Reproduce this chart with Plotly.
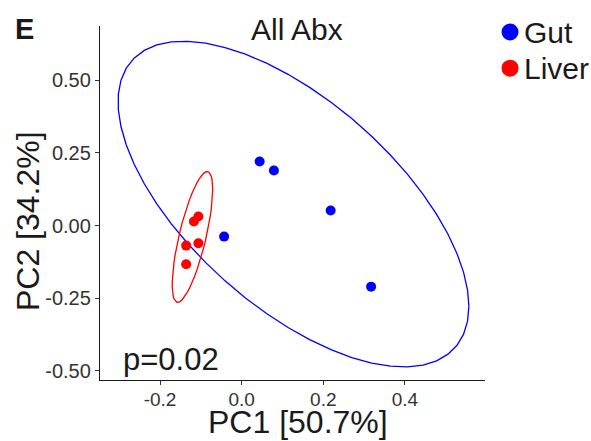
import numpy as np
import plotly.graph_objects as go

# ---- data ----
gut_pc1 = [0.044, 0.079, 0.218, 0.317, -0.043]
gut_pc2 = [0.220, 0.189, 0.052, -0.210, -0.038]
liver_pc1 = [-0.106, -0.117, -0.106, -0.136, -0.136]
liver_pc2 = [0.031, 0.014, -0.061, -0.069, -0.133]

groups = ["Gut", "Liver"]
group_colors = ["#0000FF", "#FF0000"]
x_ticks = [-0.2, 0.0, 0.2, 0.4]
x_tick_labels = ["-0.2", "0.0", "0.2", "0.4"]
y_ticks = [0.5, 0.25, 0.0, -0.25, -0.5]
y_tick_labels = ["0.50", "0.25", "0.00", "-0.25", "-0.50"]
x_range = [-0.347, 0.596]
y_range = [-0.531, 0.686]
title_text = "All Abx"
x_title = "PC1 [50.7%]"
y_title = "PC2 [34.2%]"
p_label = "p=0.02"
panel_label = "E"

FONT = "Liberation Sans, Arial, sans-serif"
TXT = "#1a1a1a"


def cov_trob(pts, nu=5, maxit=25, tol=0.01):
    """Port of MASS::cov.trob (used by ggplot2 stat_ellipse type='t')."""
    x = np.asarray(pts, float)
    n, p = x.shape
    wt = np.ones(n)
    loc = x.mean(axis=0)
    w = np.sqrt(wt)
    X = x - loc
    for _ in range(maxit):
        w0 = w
        X = x - loc
        A = np.sqrt(w / w.sum())[:, None] * X
        _, d, vt = np.linalg.svd(A, full_matrices=False)
        wX = X @ vt.T @ np.diag(1.0 / d)
        Q = (wX ** 2).sum(axis=1)
        w = wt * (nu + p) / (nu + Q)
        loc = (w[:, None] * x).sum(axis=0) / w.sum()
        if np.all(np.abs(w - w0) < tol):
            break
    sw = np.sqrt(w)[:, None] * X
    cov = sw.T @ sw / wt.sum()
    return loc, cov


def stat_ellipse(px, py, level=0.95, segments=51):
    pts = np.column_stack([px, py])
    center, shape = cov_trob(pts)
    dfd = len(px) - 1
    fq = (dfd / 2.0) * ((1 - level) ** (-2.0 / dfd) - 1)  # qf(level, 2, dfd)
    radius = np.sqrt(2 * fq)
    R = np.linalg.cholesky(shape).T
    ang = np.arange(segments + 1) * 2 * np.pi / segments
    circ = np.column_stack([np.cos(ang), np.sin(ang)])
    e = center + radius * (circ @ R)
    return e[:, 0], e[:, 1]


fig = go.Figure()
series = [(gut_pc1, gut_pc2), (liver_pc1, liver_pc2)]

for (px, py), name, col in zip(series, groups, group_colors):
    ex, ey = stat_ellipse(px, py)
    fig.add_trace(go.Scatter(x=ex, y=ey, mode="lines", line=dict(color=col, width=1.3),
                             showlegend=False, hoverinfo="skip"))
for (px, py), name, col in zip(series, groups, group_colors):
    fig.add_trace(go.Scatter(x=px, y=py, mode="markers", name=name,
                             marker=dict(color=col, size=10, line=dict(width=0)),
                             showlegend=False))

# manual legend (circles + text)
leg_y = [0.983, 0.881]
shapes = []
annotations = []
for name, col, ly in zip(groups, group_colors, leg_y):
    shapes.append(dict(type="circle", xref="paper", yref="paper", xsizemode="pixel",
                       ysizemode="pixel", xanchor=1.065, yanchor=ly,
                       x0=-8.5, x1=8.5, y0=-8.5, y1=8.5,
                       fillcolor=col, line=dict(width=0)))
    annotations.append(dict(text=name, xref="paper", yref="paper", x=1.095, y=ly,
                            xanchor="left", yanchor="middle", showarrow=False,
                            font=dict(size=30, color=TXT, family=FONT)))

annotations.append(dict(text=title_text, xref="paper", yref="paper", x=0.5105, y=0.9915,
                        xanchor="center", yanchor="middle", showarrow=False,
                        font=dict(size=30, color=TXT, family=FONT)))
annotations.append(dict(text="<b>" + panel_label + "</b>", xref="paper", yref="paper",
                        x=-0.197, y=0.9915, xanchor="center", yanchor="middle",
                        showarrow=False, font=dict(size=29, color=TXT, family=FONT)))
annotations.append(dict(text=p_label, xref="x", yref="y", x=-0.295, y=-0.462,
                        xanchor="left", yanchor="middle", showarrow=False,
                        font=dict(size=31, color=TXT, family=FONT)))
# axis titles
annotations.append(dict(text=x_title, xref="paper", yref="paper", x=0.513, y=-0.12,
                        xanchor="center", yanchor="middle", showarrow=False,
                        font=dict(size=32, color=TXT, family=FONT)))
annotations.append(dict(text=y_title, xref="paper", yref="paper", x=-0.187, y=0.449,
                        xanchor="center", yanchor="middle", showarrow=False, textangle=-90,
                        font=dict(size=32, color=TXT, family=FONT)))

fig.update_layout(
    width=591, height=441,
    margin=dict(l=100, r=106, t=26, b=61),
    plot_bgcolor="white", paper_bgcolor="white",
    shapes=shapes, annotations=annotations,
    font=dict(family=FONT),
    xaxis=dict(range=x_range, tickvals=x_ticks, ticktext=x_tick_labels,
               showgrid=False, zeroline=False, showline=True, linecolor=TXT,
               linewidth=1.3, ticks="outside", ticklen=4, tickwidth=1, tickcolor="#333",
               ticklabelstandoff=-2,
               tickfont=dict(size=19, color="#333", family=FONT)),
    yaxis=dict(range=y_range, tickvals=y_ticks, ticktext=y_tick_labels,
               showgrid=False, zeroline=False, showline=True, linecolor=TXT,
               linewidth=1.3, ticks="outside", ticklen=4, tickwidth=1, tickcolor="#333",
               tickfont=dict(size=20, color="#333", family=FONT)),
)

fig.write_html("out.html")
